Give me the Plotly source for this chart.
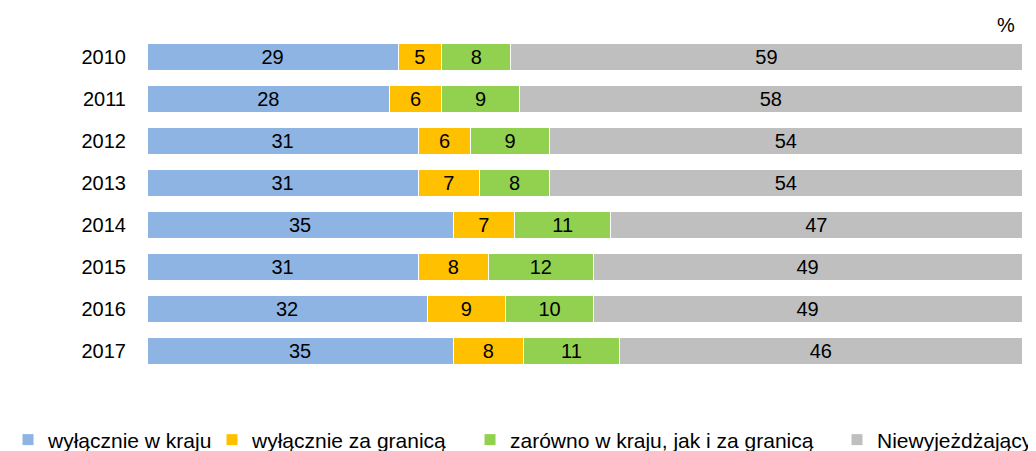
import plotly.graph_objects as go

years = ["2010", "2011", "2012", "2013", "2014", "2015", "2016", "2017"]
domestic_only = [29, 28, 31, 31, 35, 31, 32, 35]
abroad_only = [5, 6, 6, 7, 7, 8, 9, 8]
both = [8, 9, 9, 8, 11, 12, 10, 11]
not_travelling = [59, 58, 54, 54, 47, 49, 49, 46]

series = [
    ("wyłącznie w kraju", domestic_only, "#8EB4E3"),
    ("wyłącznie za granicą", abroad_only, "#FFC000"),
    ("zarówno w kraju, jak i za granicą", both, "#92D050"),
    ("Niewyjeżdżający", not_travelling, "#BFBFBF"),
]

FONT = "Liberation Sans, Arial, sans-serif"
OFF = 8  # browser body margin
W, H = 1036 - OFF, 451 - OFF
L, R, T, B = 147 - OFF, 14, 36 - OFF, 79
pw = W - L - R
ph = H - T - B

# desired legend text-start pixel positions (reference, page coords)
legend_text_px = [27, 252, 510, 877]
legend_names = ["legend", "legend2", "legend3", "legend4"]

fig = go.Figure()
for (name, vals, color), lg in zip(series, legend_names):
    fig.add_trace(go.Bar(
        y=years, x=vals, name=name, orientation="h",
        marker=dict(color=color, line=dict(color="white", width=1)),
        text=[str(v) for v in vals], textposition="inside",
        insidetextanchor="middle", constraintext="none", textangle=0,
        textfont=dict(family=FONT, size=20, color="black"),
        hoverinfo="skip", legend=lg, showlegend=True,
    ))

layout_legends = {}
for px, lg in zip(legend_text_px, legend_names):
    layout_legends[lg] = dict(
        xref="container", yref="container",
        x=max(px - OFF - 40, -10) / W, xanchor="left",
        y=(H - (440 - OFF)) / H, yanchor="middle",
        orientation="h", font=dict(family=FONT, size=21, color="black"),
        bgcolor="rgba(0,0,0,0)", itemwidth=30, visible=True,
    )

fig.update_layout(
    width=W, height=H, showlegend=True,
    margin=dict(l=L, r=R, t=T, b=B, autoexpand=False),
    barmode="stack", barnorm="percent", bargap=0.38,
    plot_bgcolor="white", paper_bgcolor="white",
    font=dict(family=FONT, size=20, color="black"),
    xaxis=dict(range=[0, 100], showticklabels=False, showgrid=False,
               zeroline=False, showline=False, fixedrange=True),
    yaxis=dict(autorange="reversed", showgrid=False, zeroline=False,
               showline=False, ticklabelstandoff=20,
               tickfont=dict(family=FONT, size=20, color="black")),
    annotations=[dict(text="%", xref="paper", yref="paper",
                      x=(1006 - OFF - L) / pw, y=(H - B - (25 - OFF)) / ph,
                      xanchor="center", yanchor="middle", showarrow=False,
                      font=dict(family=FONT, size=20, color="black"))],
    **layout_legends,
)

fig.write_html("out.html")
